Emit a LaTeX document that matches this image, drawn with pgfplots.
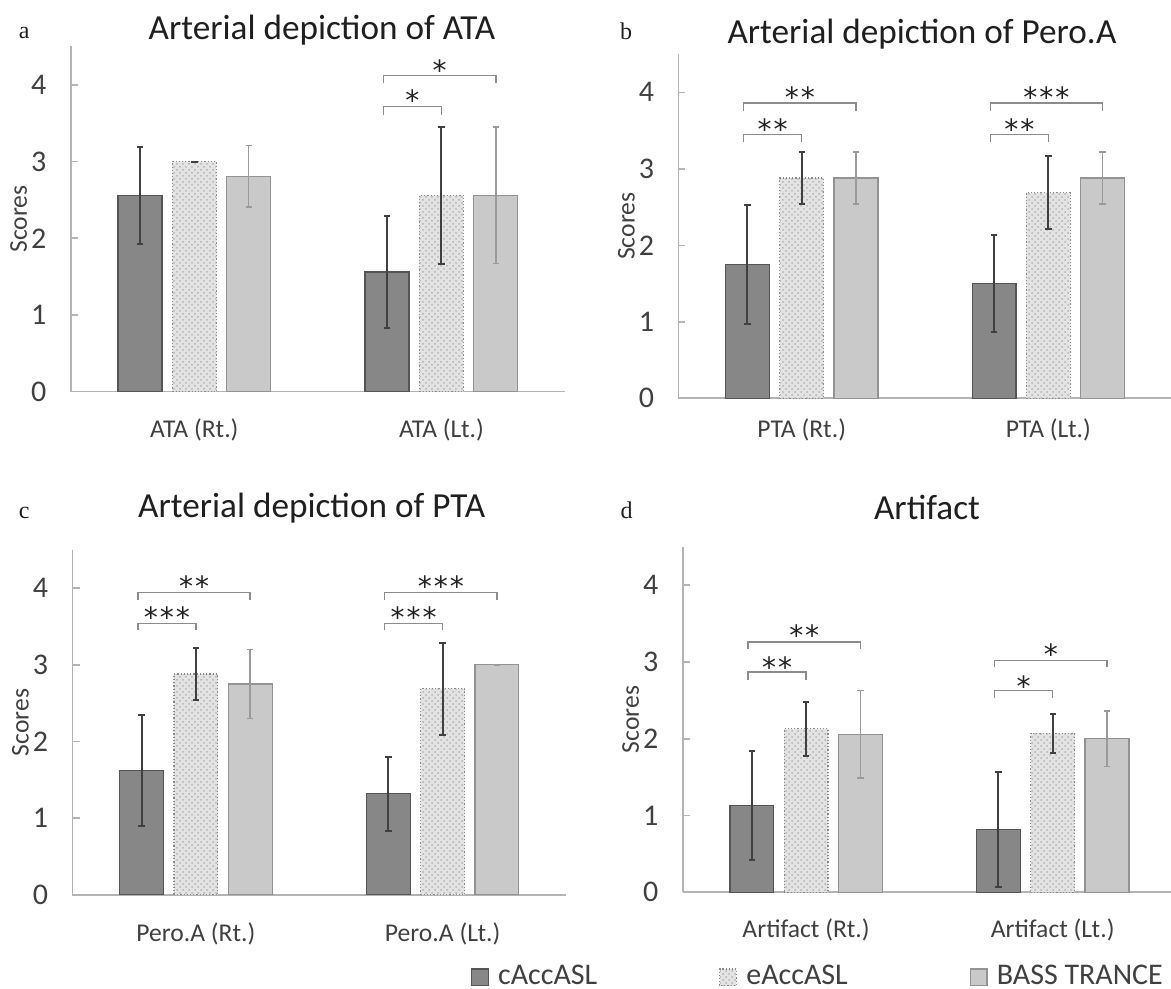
\documentclass[border=0pt]{standalone}
\usepackage{fontspec}
\setmainfont{Carlito}
\newfontfamily\letterfont{Liberation Serif}
\newfontfamily\starfont{DejaVu Sans}
\usepackage{pgfplots}
\pgfplotsset{compat=1.18}
\usetikzlibrary{patterns}

\definecolor{cdark}{HTML}{878787}
\definecolor{cdarkline}{HTML}{555555}
\definecolor{clight}{HTML}{E3E3E3}
\definecolor{clightline}{HTML}{8A8A8A}
\definecolor{cbass}{HTML}{C9C9C9}
\definecolor{cbassline}{HTML}{939393}
\definecolor{axisgray}{HTML}{B4B4B4}
\definecolor{txt}{HTML}{404040}
\definecolor{titletxt}{HTML}{1F1F1F}
\definecolor{errdark}{HTML}{404040}
\definecolor{errlight}{HTML}{9A9A9A}
\definecolor{brk}{HTML}{8C8C8C}
\definecolor{startxt}{HTML}{222222}

\newcommand{\sone}{*}
\newcommand{\stwo}{*\kern1pt*}
\newcommand{\sthree}{*\kern1pt*\kern1pt*}
\newcommand{\sig}[7]{%
  \draw[brk, line width=0.7pt] (axis cs:#1,#4) -- (axis cs:#1,#5) -- (axis cs:#2,#5) -- (axis cs:#2,#4);%
  \node[font=\starfont\fontsize{14}{14}\selectfont, text=startxt, inner sep=0pt, anchor=center, yshift=-2pt] at (axis cs:#3,#6) {#7};%
}

\pgfplotsset{
  panel/.style={
    scale only axis,
    xmin=-0.5, xmax=1.5, ymin=0, ymax=4.5,
    axis lines=left,
    axis line style={axisgray, line width=0.8pt},
    x axis line style={-}, y axis line style={-},
    xtick={0,1}, xtick style={draw=none},
    ytick={0,1,2,3,4}, ytick align=inside,
    ytick style={axisgray, line width=0.8pt},
    major tick length=3.5pt,
    tick label style={font=\fontsize{12.8}{14}\selectfont, color=txt},
    yticklabel style={anchor=east, inner sep=0pt, xshift=-12pt, font=\fontsize{15}{16}\selectfont},
    /pgf/number format/assume math mode=true,
    ylabel={Scores},
    every axis y label/.style={at={(axis description cs:-0.1055,0.5)}, rotate=90, anchor=center, font=\fontsize{12.8}{14}\selectfont, color=txt},
    bar width=0.178,
  },
  s1/.style={ybar, bar shift=0, fill=cdark, draw=cdarkline, line width=0.6pt,
    legend image code/.code={\draw[##1] (0pt,-4.8pt) rectangle (8.3pt,3.5pt);},
    error bars/.cd, y dir=both, y explicit,
    error bar style={errdark, line width=1pt, solid},
    error mark options={errdark, rotate=90, mark size=1.6pt, line width=1pt, solid}},
  s2/.style={ybar, bar shift=0, fill=clight, draw=clightline, densely dotted, line width=0.6pt,
    postaction={pattern=crosshatch dots, pattern color=black!30},
    legend image code/.code={\draw[##1] (0pt,-4.8pt) rectangle (8.3pt,3.5pt);},
    error bars/.cd, y dir=both, y explicit,
    error bar style={errdark, line width=1pt, solid},
    error mark options={errdark, rotate=90, mark size=1.6pt, line width=1pt, solid}},
  s3/.style={ybar, bar shift=0, fill=cbass, draw=cbassline, line width=0.6pt,
    legend image code/.code={\draw[##1] (0pt,-4.8pt) rectangle (8.3pt,3.5pt);},
    error bars/.cd, y dir=both, y explicit,
    error bar style={errlight, line width=0.7pt, solid},
    error mark options={errlight, rotate=90, mark size=1.6pt, line width=0.7pt, solid}},
}

\begin{document}
\begin{tikzpicture}
\useasboundingbox (0pt,0pt) rectangle (585.5pt,494.5pt);
\clip (0pt,0pt) rectangle (585.5pt,494.5pt);

% ---------------- panel a ----------------
\begin{axis}[panel, at={(35.4pt,298.65pt)}, anchor=south west, width=247.1pt, height=172.6pt,
  xticklabels={ATA (Rt.),ATA (Lt.)}, xticklabel style={anchor=base, inner sep=0pt, yshift=-21.15pt}]
\addplot[s1] coordinates {(-0.22,2.56) +- (0,0.63) (0.78,1.56) +- (0,0.73)};
\addplot[s2] coordinates {(0,3.00) +- (0,0.00) (1,2.56) +- (0,0.89)};
\addplot[s3] coordinates {(0.22,2.81) +- (0,0.40) (1.22,2.56) +- (0,0.89)};
\sig{0.765}{1}{0.8825}{3.61}{3.72}{3.85}{\sone}
\sig{0.765}{1.22}{0.9925}{4.02}{4.12}{4.24}{\sone}
\end{axis}

% ---------------- panel b ----------------
\begin{axis}[panel, at={(339.2pt,295.35pt)}, anchor=south west, width=246.6pt, height=172.1pt,
  xticklabels={PTA (Rt.),PTA (Lt.)}, xticklabel style={anchor=base, inner sep=0pt, yshift=-17.85pt}]
\addplot[s1] coordinates {(-0.22,1.75) +- (0,0.78) (0.78,1.50) +- (0,0.63)};
\addplot[s2] coordinates {(0,2.88) +- (0,0.34) (1,2.69) +- (0,0.48)};
\addplot[s3] coordinates {(0.22,2.88) +- (0,0.34) (1.22,2.88) +- (0,0.34)};
\sig{-0.235}{0}{-0.1175}{3.35}{3.45}{3.57}{\stwo}
\sig{-0.235}{0.22}{-0.0075}{3.76}{3.86}{3.99}{\stwo}
\sig{0.765}{1}{0.8825}{3.35}{3.45}{3.57}{\stwo}
\sig{0.765}{1.22}{0.9925}{3.76}{3.86}{3.99}{\sthree}
\end{axis}

% ---------------- panel c ----------------
\begin{axis}[panel, at={(36.25pt,47pt)}, anchor=south west, width=246.75pt, height=172.6pt,
  xticklabels={Pero.A (Rt.),Pero.A (Lt.)}, xticklabel style={anchor=base, inner sep=0pt, yshift=-21.5pt},
  legend columns=3,
  legend cell align=left,
  legend style={at={(axis description cs:0.8075,-0.2348)}, anchor=west, draw=none, fill=none,
    inner sep=0pt, outer sep=0pt, font=\fontsize{15}{16}\selectfont, text=txt,
    nodes={inner sep=0pt},
    /tikz/every odd column/.append style={column sep=4.65pt},
    /tikz/every even column/.append style={column sep=61pt}},
  legend entries={cAccASL,eAccASL,BASS TRANCE}]
\addplot[s1] coordinates {(-0.22,1.62) +- (0,0.72) (0.78,1.32) +- (0,0.48)};
\addplot[s2] coordinates {(0,2.88) +- (0,0.34) (1,2.69) +- (0,0.60)};
\addplot[s3] coordinates {(0.22,2.75) +- (0,0.45) (1.22,3.00) +- (0,0.00)};
\sig{-0.235}{0}{-0.1175}{3.45}{3.54}{3.67}{\sthree}
\sig{-0.235}{0.22}{-0.0075}{3.85}{3.94}{4.08}{\stwo}
\sig{0.765}{1}{0.8825}{3.45}{3.54}{3.67}{\sthree}
\sig{0.765}{1.22}{0.9925}{3.85}{3.94}{4.08}{\sthree}
\end{axis}

% ---------------- panel d ----------------
\begin{axis}[panel, at={(341.4pt,48.35pt)}, anchor=south west, width=246.6pt, height=172.7pt,
  xticklabels={Artifact (Rt.),Artifact (Lt.)}, xticklabel style={anchor=base, inner sep=0pt, yshift=-20.85pt}]
\addplot[s1] coordinates {(-0.22,1.13) +- (0,0.71) (0.78,0.82) +- (0,0.75)};
\addplot[s2] coordinates {(0,2.13) +- (0,0.35) (1,2.07) +- (0,0.25)};
\addplot[s3] coordinates {(0.22,2.06) +- (0,0.57) (1.22,2.00) +- (0,0.36)};
\sig{-0.235}{0}{-0.1175}{2.77}{2.87}{2.99}{\stwo}
\sig{-0.235}{0.22}{-0.0075}{3.17}{3.26}{3.40}{\stwo}
\sig{0.765}{1}{0.8825}{2.53}{2.63}{2.74}{\sone}
\sig{0.765}{1.22}{0.9925}{2.93}{3.02}{3.15}{\sone}
\end{axis}

% titles and panel letters
\node[anchor=base, font=\fontsize{17.6}{19}\selectfont, text=titletxt] at (161pt,474.85pt) {Arterial depiction of ATA};
\node[anchor=base, font=\fontsize{17.6}{19}\selectfont, text=titletxt] at (461pt,472.9pt) {Arterial depiction of Pero.A};
\node[anchor=base, font=\fontsize{17.6}{19}\selectfont, text=titletxt] at (155.85pt,235.65pt) {Arterial depiction of PTA};
\node[anchor=base, font=\fontsize{17.6}{19}\selectfont, text=titletxt] at (463.5pt,234.85pt) {Artifact};
\node[anchor=base, font=\letterfont\fontsize{12}{12}\selectfont, text=titletxt] at (12.05pt,475.35pt) {a};
\node[anchor=base, font=\letterfont\fontsize{12}{12}\selectfont, text=titletxt] at (313.05pt,474.5pt) {b};
\node[anchor=base, font=\letterfont\fontsize{12}{12}\selectfont, text=titletxt] at (12.05pt,235.35pt) {c};
\node[anchor=base, font=\letterfont\fontsize{12}{12}\selectfont, text=titletxt] at (313.35pt,235pt) {d};
\end{tikzpicture}
\end{document}
